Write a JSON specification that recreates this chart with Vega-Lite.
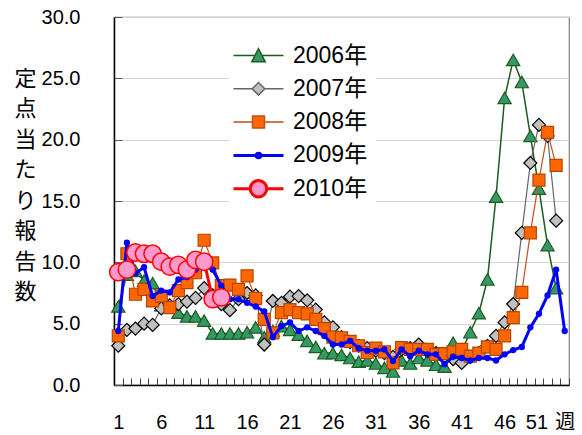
{
  "$schema": "https://vega.github.io/schema/vega-lite/v6.json",
  "autosize": "none",
  "padding": {"left": 114, "top": 17, "right": 13, "bottom": 50},
  "width": 455,
  "height": 368,
  "background": "white",
  "config": {
    "font": "Liberation Sans, Noto Sans CJK JP, sans-serif",
    "view": {"stroke": "#808080", "strokeWidth": 1.2},
    "axis": {"labelColor": "black", "labelFont": "Liberation Sans, Noto Sans CJK JP, sans-serif"}
  },
  "data": {"values": [
    {"year":"2006年","week":1,"value":6.4},{"year":"2006年","week":2,"value":9.0},{"year":"2006年","week":3,"value":9.3},{"year":"2006年","week":4,"value":8.5},{"year":"2006年","week":5,"value":8.3},{"year":"2006年","week":6,"value":6.5},{"year":"2006年","week":7,"value":6.35},{"year":"2006年","week":8,"value":5.9},{"year":"2006年","week":9,"value":5.6},{"year":"2006年","week":10,"value":5.6},
    {"year":"2006年","week":11,"value":5.25},{"year":"2006年","week":12,"value":4.2},{"year":"2006年","week":13,"value":4.2},{"year":"2006年","week":14,"value":4.2},{"year":"2006年","week":15,"value":4.2},{"year":"2006年","week":16,"value":4.3},{"year":"2006年","week":17,"value":4.7},{"year":"2006年","week":18,"value":3.9},{"year":"2006年","week":19,"value":4.4},{"year":"2006年","week":20,"value":4.8},
    {"year":"2006年","week":21,"value":4.5},{"year":"2006年","week":22,"value":4.1},{"year":"2006年","week":23,"value":3.6},{"year":"2006年","week":24,"value":3.1},{"year":"2006年","week":25,"value":2.6},{"year":"2006年","week":26,"value":2.6},{"year":"2006年","week":27,"value":2.45},{"year":"2006年","week":28,"value":2.2},{"year":"2006年","week":29,"value":1.9},{"year":"2006年","week":30,"value":2.0},
    {"year":"2006年","week":31,"value":1.75},{"year":"2006年","week":32,"value":1.4},{"year":"2006年","week":33,"value":1.1},{"year":"2006年","week":34,"value":2.0},{"year":"2006年","week":35,"value":1.75},{"year":"2006年","week":36,"value":2.2},{"year":"2006年","week":37,"value":2.0},{"year":"2006年","week":38,"value":1.65},{"year":"2006年","week":39,"value":1.5},{"year":"2006年","week":40,"value":3.45},
    {"year":"2006年","week":41,"value":2.8},{"year":"2006年","week":42,"value":4.3},{"year":"2006年","week":43,"value":5.85},{"year":"2006年","week":44,"value":8.6},{"year":"2006年","week":45,"value":15.35},{"year":"2006年","week":46,"value":23.4},{"year":"2006年","week":47,"value":26.5},{"year":"2006年","week":48,"value":24.7},{"year":"2006年","week":49,"value":20.3},{"year":"2006年","week":50,"value":16.0},
    {"year":"2006年","week":51,"value":11.4},{"year":"2006年","week":52,"value":7.9},

    {"year":"2007年","week":1,"value":3.2},{"year":"2007年","week":2,"value":4.5},{"year":"2007年","week":3,"value":4.6},{"year":"2007年","week":4,"value":5.0},{"year":"2007年","week":5,"value":4.9},{"year":"2007年","week":6,"value":6.25},{"year":"2007年","week":7,"value":6.5},{"year":"2007年","week":8,"value":6.6},{"year":"2007年","week":9,"value":6.8},{"year":"2007年","week":10,"value":7.1},
    {"year":"2007年","week":11,"value":7.9},{"year":"2007年","week":12,"value":7.3},{"year":"2007年","week":13,"value":6.6},{"year":"2007年","week":14,"value":6.1},{"year":"2007年","week":15,"value":7.0},{"year":"2007年","week":16,"value":7.5},{"year":"2007年","week":17,"value":7.3},{"year":"2007年","week":18,"value":3.3},{"year":"2007年","week":19,"value":6.85},{"year":"2007年","week":20,"value":6.7},
    {"year":"2007年","week":21,"value":7.2},{"year":"2007年","week":22,"value":7.25},{"year":"2007年","week":23,"value":6.9},{"year":"2007年","week":24,"value":6.15},{"year":"2007年","week":25,"value":5.1},{"year":"2007年","week":26,"value":4.7},{"year":"2007年","week":27,"value":3.9},{"year":"2007年","week":28,"value":3.5},{"year":"2007年","week":29,"value":3.2},{"year":"2007年","week":30,"value":3.0},
    {"year":"2007年","week":31,"value":2.8},{"year":"2007年","week":32,"value":2.6},{"year":"2007年","week":33,"value":2.3},{"year":"2007年","week":34,"value":2.9},{"year":"2007年","week":35,"value":3.0},{"year":"2007年","week":36,"value":3.3},{"year":"2007年","week":37,"value":2.8},{"year":"2007年","week":38,"value":2.6},{"year":"2007年","week":39,"value":2.3},{"year":"2007年","week":40,"value":2.1},
    {"year":"2007年","week":41,"value":1.8},{"year":"2007年","week":42,"value":2.3},{"year":"2007年","week":43,"value":2.6},{"year":"2007年","week":44,"value":3.2},{"year":"2007年","week":45,"value":4.0},{"year":"2007年","week":46,"value":5.1},{"year":"2007年","week":47,"value":6.6},{"year":"2007年","week":48,"value":12.4},{"year":"2007年","week":49,"value":18.1},{"year":"2007年","week":50,"value":21.2},
    {"year":"2007年","week":51,"value":20.3},{"year":"2007年","week":52,"value":13.4},

    {"year":"2008年","week":1,"value":4.0},{"year":"2008年","week":2,"value":10.7},{"year":"2008年","week":3,"value":7.4},{"year":"2008年","week":4,"value":7.8},{"year":"2008年","week":5,"value":6.85},{"year":"2008年","week":6,"value":7.25},{"year":"2008年","week":7,"value":6.3},{"year":"2008年","week":8,"value":7.7},{"year":"2008年","week":9,"value":8.35},{"year":"2008年","week":10,"value":9.15},
    {"year":"2008年","week":11,"value":11.8},{"year":"2008年","week":12,"value":9.95},{"year":"2008年","week":13,"value":8.1},{"year":"2008年","week":14,"value":8.15},{"year":"2008年","week":15,"value":7.8},{"year":"2008年","week":16,"value":8.9},{"year":"2008年","week":17,"value":7.05},{"year":"2008年","week":18,"value":5.35},{"year":"2008年","week":19,"value":4.25},{"year":"2008年","week":20,"value":5.9},
    {"year":"2008年","week":21,"value":6.15},{"year":"2008年","week":22,"value":5.9},{"year":"2008年","week":23,"value":5.8},{"year":"2008年","week":24,"value":5.35},{"year":"2008年","week":25,"value":4.6},{"year":"2008年","week":26,"value":3.9},{"year":"2008年","week":27,"value":3.85},{"year":"2008年","week":28,"value":3.55},{"year":"2008年","week":29,"value":3.2},{"year":"2008年","week":30,"value":2.65},
    {"year":"2008年","week":31,"value":3.0},{"year":"2008年","week":32,"value":2.7},{"year":"2008年","week":33,"value":1.8},{"year":"2008年","week":34,"value":3.05},{"year":"2008年","week":35,"value":2.9},{"year":"2008年","week":36,"value":2.9},{"year":"2008年","week":37,"value":2.9},{"year":"2008年","week":38,"value":2.5},{"year":"2008年","week":39,"value":2.55},{"year":"2008年","week":40,"value":2.7},
    {"year":"2008年","week":41,"value":2.9},{"year":"2008年","week":42,"value":2.35},{"year":"2008年","week":43,"value":2.6},{"year":"2008年","week":44,"value":3.1},{"year":"2008年","week":45,"value":2.9},{"year":"2008年","week":46,"value":4.0},{"year":"2008年","week":47,"value":5.5},{"year":"2008年","week":48,"value":7.55},{"year":"2008年","week":49,"value":12.4},{"year":"2008年","week":50,"value":16.7},
    {"year":"2008年","week":51,"value":20.6},{"year":"2008年","week":52,"value":17.9},

    {"year":"2009年","week":1,"value":4.4},{"year":"2009年","week":2,"value":11.6},{"year":"2009年","week":3,"value":9.1},{"year":"2009年","week":4,"value":9.6},{"year":"2009年","week":5,"value":7.25},{"year":"2009年","week":6,"value":7.7},{"year":"2009年","week":7,"value":7.55},{"year":"2009年","week":8,"value":8.6},{"year":"2009年","week":9,"value":8.8},{"year":"2009年","week":10,"value":9.4},
    {"year":"2009年","week":11,"value":9.9},{"year":"2009年","week":12,"value":9.4},{"year":"2009年","week":13,"value":8.1},{"year":"2009年","week":14,"value":7.0},{"year":"2009年","week":15,"value":7.0},{"year":"2009年","week":16,"value":6.7},{"year":"2009年","week":17,"value":6.4},{"year":"2009年","week":18,"value":6.0},{"year":"2009年","week":19,"value":3.9},{"year":"2009年","week":20,"value":4.8},
    {"year":"2009年","week":21,"value":5.1},{"year":"2009年","week":22,"value":4.4},{"year":"2009年","week":23,"value":4.7},{"year":"2009年","week":24,"value":4.4},{"year":"2009年","week":25,"value":4.0},{"year":"2009年","week":26,"value":3.3},{"year":"2009年","week":27,"value":3.3},{"year":"2009年","week":28,"value":3.6},{"year":"2009年","week":29,"value":3.0},{"year":"2009年","week":30,"value":2.8},
    {"year":"2009年","week":31,"value":2.8},{"year":"2009年","week":32,"value":2.9},{"year":"2009年","week":33,"value":1.95},{"year":"2009年","week":34,"value":2.9},{"year":"2009年","week":35,"value":2.35},{"year":"2009年","week":36,"value":2.8},{"year":"2009年","week":37,"value":2.5},{"year":"2009年","week":38,"value":2.5},{"year":"2009年","week":39,"value":1.7},{"year":"2009年","week":40,"value":2.3},
    {"year":"2009年","week":41,"value":2.2},{"year":"2009年","week":42,"value":2.0},{"year":"2009年","week":43,"value":2.2},{"year":"2009年","week":44,"value":2.2},{"year":"2009年","week":45,"value":2.0},{"year":"2009年","week":46,"value":2.5},{"year":"2009年","week":47,"value":2.85},{"year":"2009年","week":48,"value":3.1},{"year":"2009年","week":49,"value":4.7},{"year":"2009年","week":50,"value":5.8},
    {"year":"2009年","week":51,"value":7.3},{"year":"2009年","week":52,"value":9.4},{"year":"2009年","week":53,"value":4.4},

    {"year":"2010年","week":1,"value":9.2},{"year":"2010年","week":2,"value":9.4},{"year":"2010年","week":3,"value":10.8},{"year":"2010年","week":4,"value":10.7},{"year":"2010年","week":5,"value":10.7},{"year":"2010年","week":6,"value":10.05},{"year":"2010年","week":7,"value":9.65},{"year":"2010年","week":8,"value":9.8},{"year":"2010年","week":9,"value":9.4},{"year":"2010年","week":10,"value":10.2},
    {"year":"2010年","week":11,"value":10.05},{"year":"2010年","week":12,"value":7.0},{"year":"2010年","week":13,"value":7.15}
  ]},
  "encoding": {
    "x": {
      "field": "week", "type": "quantitative",
      "scale": {"domain": [0.5, 53.5], "nice": false, "zero": false},
      "axis": {
        "title": null,
        "values": [1,2,3,4,5,6,7,8,9,10,11,12,13,14,15,16,17,18,19,20,21,22,23,24,25,26,27,28,29,30,31,32,33,34,35,36,37,38,39,40,41,42,43,44,45,46,47,48,49,50,51,52,53],
        "labelExpr": "datum.value == 53 ? '週' : (datum.value % 5 == 1 ? datum.label : '')",
        "labelAlign": {"condition": {"test": "datum.value == 51", "value": "right"}, "value": "center"},
        "tickOffset": 4.29,
        "labelOffset": -4.29,
        "tickSize": -7,
        "tickColor": "#404040",
        "labelPadding": 34,
        "labelOverlap": false,
        "labelFlush": false,
        "labelFontSize": 20,
        "labelAngle": 0,
        "grid": false,
        "domainColor": "black",
        "domainWidth": 1.5
      }
    },
    "y": {
      "field": "value", "type": "quantitative",
      "scale": {"domain": [0, 30], "nice": false},
      "axis": {
        "values": [0,5,10,15,20,25,30],
        "format": ".1f",
        "title": ["定","点","当","た","り","報","告","数"],
        "titleAngle": 0,
        "titleAlign": "center",
        "titleBaseline": "top",
        "titleX": -89,
        "titleY": 51,
        "titleLineHeight": 30.5,
        "titleFontSize": 22,
        "titleFontWeight": "normal",
        "titleFont": "Noto Sans CJK JP",
        "titleColor": "black",
        "grid": true,
        "gridColor": "#d4d4d4",
        "gridWidth": 1.2,
        "tickSize": -8,
        "tickColor": "#595959",
        "labelPadding": 42,
        "labelFontSize": 20,
        "domainColor": "black",
        "domainWidth": 1.5
      }
    }
  },
  "layer": [
    {
      "transform": [{"filter": "datum.year == '2006年'"}],
      "mark": {"type": "line", "strokeWidth": 1.5},
      "encoding": {
        "color": {
          "field": "year", "type": "nominal",
          "scale": {"domain": ["2006年","2007年","2008年","2009年","2010年"], "range": ["#1e5b1e","#666666","#c0501a","#0000ff","#ff0000"]},
          "legend": {
            "title": null,
            "orient": "none",
            "legendX": 115,
            "legendY": 19,
            "fillColor": "white",
            "padding": 8,
            "symbolSize": 900,
            "rowPadding": 4.3,
            "gridAlign": "all",
            "labelFontSize": 23,
            "labelColor": "black",
            "labelOffset": 23,
            "labelLimit": 300,
            "symbolOffset": 10,
            "encode": {
              "symbols": {
                "update": {
                  "shape": {"signal": "datum.value == '2006年' ? 'M-1.667,0H-0.23M0.23,0H1.667M0,-0.45L0.45,0.42L-0.45,0.42Z' : datum.value == '2007年' ? 'M-1.667,0H-0.42M0.42,0H1.667M0,-0.42L0.42,0L0,0.42L-0.42,0Z' : datum.value == '2008年' ? 'M-1.667,0H-0.4M0.4,0H1.667M-0.4,-0.4H0.4V0.4H-0.4Z' : datum.value == '2009年' ? 'M-1.667,0H1.667M-0.15,0A0.15,0.15,0,1,0,0.15,0A0.15,0.15,0,1,0,-0.15,0Z' : 'M-1.667,0H-0.55M0.55,0H1.667M-0.55,0A0.55,0.55,0,1,0,0.55,0A0.55,0.55,0,1,0,-0.55,0Z'"},
                  "fill": {"signal": "datum.value == '2006年' ? '#339966' : datum.value == '2007年' ? '#c0c0c0' : datum.value == '2008年' ? '#ff6600' : datum.value == '2009年' ? '#0000ff' : '#ff99cc'"},
                  "stroke": {"signal": "datum.value == '2006年' ? '#1e5b1e' : datum.value == '2007年' ? '#666666' : datum.value == '2008年' ? '#c0501a' : datum.value == '2009年' ? '#0000ff' : '#ff0000'"},
                  "strokeWidth": {"signal": "datum.value == '2009年' || datum.value == '2010年' ? 3 : 1.5"},
                  "opacity": {"value": 1},
                  "fillOpacity": {"value": 1}
                }
              }
            }
          }
        }
      }
    },
    {
      "transform": [{"filter": "datum.year == '2006年'"}],
      "mark": {"type": "point", "shape": "triangle-up", "size": 175, "filled": true, "fill": "#339966", "stroke": "#1e5b1e", "strokeWidth": 1.2, "opacity": 1}
    },
    {
      "transform": [{"filter": "datum.year == '2007年'"}],
      "mark": {"type": "line", "strokeWidth": 1.2},
      "encoding": {"color": {"field": "year", "type": "nominal"}}
    },
    {
      "transform": [{"filter": "datum.year == '2007年'"}],
      "mark": {"type": "point", "shape": "diamond", "size": 170, "filled": true, "fill": "#c0c0c0", "stroke": "#000000", "strokeWidth": 1.2, "opacity": 1}
    },
    {
      "transform": [{"filter": "datum.year == '2008年'"}],
      "mark": {"type": "line", "strokeWidth": 1.2},
      "encoding": {"color": {"field": "year", "type": "nominal"}}
    },
    {
      "transform": [{"filter": "datum.year == '2008年'"}],
      "mark": {"type": "point", "shape": "square", "size": 144, "filled": true, "fill": "#ff6600", "stroke": "#b34700", "strokeWidth": 1.2, "opacity": 1}
    },
    {
      "transform": [{"filter": "datum.year == '2009年'"}],
      "mark": {"type": "line", "strokeWidth": 3},
      "encoding": {"color": {"field": "year", "type": "nominal"}}
    },
    {
      "transform": [{"filter": "datum.year == '2009年'"}],
      "mark": {"type": "point", "shape": "circle", "size": 40, "filled": true, "fill": "#0000ff", "opacity": 1}
    },
    {
      "transform": [{"filter": "datum.year == '2010年'"}],
      "mark": {"type": "line", "strokeWidth": 3},
      "encoding": {"color": {"field": "year", "type": "nominal"}}
    },
    {
      "transform": [{"filter": "datum.year == '2010年'"}],
      "mark": {"type": "point", "shape": "circle", "size": 300, "filled": true, "fill": "#ff99cc", "stroke": "#ff0000", "strokeWidth": 1.5, "opacity": 1}
    }
  ]
}
